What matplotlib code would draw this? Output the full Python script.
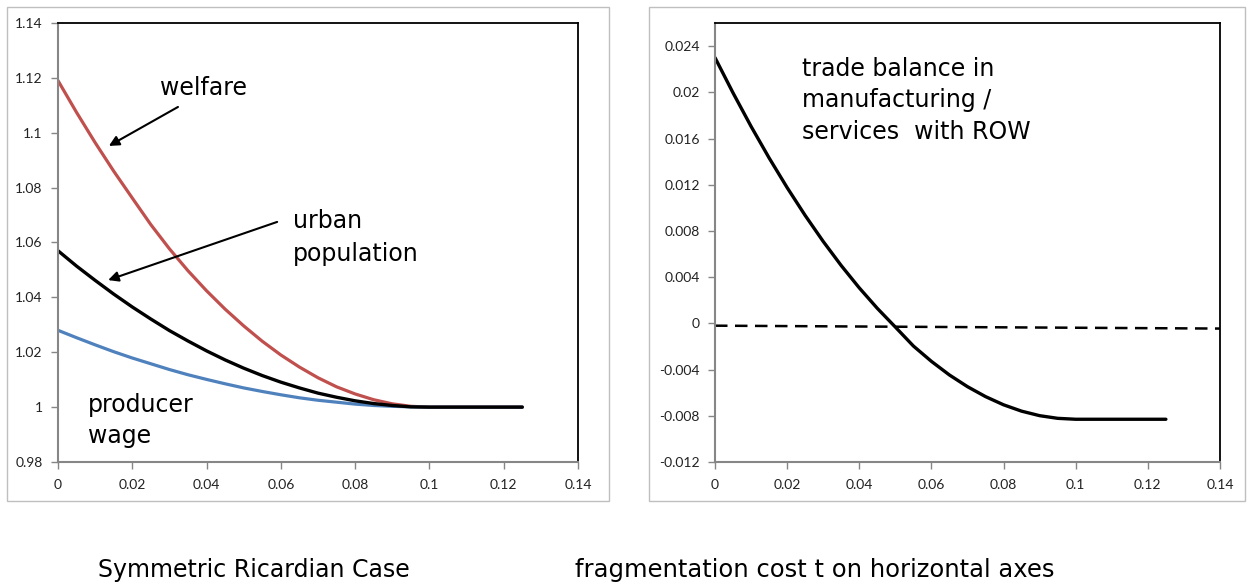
import numpy as np
import matplotlib
matplotlib.use("Agg")
import matplotlib.pyplot as plt
from matplotlib.patches import Rectangle
from matplotlib.ticker import FuncFormatter

# fragmentation cost t
t = [0.0, 0.005, 0.01, 0.015, 0.02, 0.025, 0.03, 0.035, 0.04, 0.045, 0.05,
     0.055, 0.06, 0.065, 0.07, 0.075, 0.08, 0.085, 0.09, 0.095, 0.1, 0.125]

welfare = [1.119, 1.1074, 1.0964, 1.086, 1.0762, 1.0665, 1.0577, 1.0497, 1.0424, 1.0357,
           1.0296, 1.024, 1.019, 1.0146, 1.0107, 1.0074, 1.0048, 1.0027, 1.0012, 1.0003,
           1.0, 1.0]
urban_pop = [1.057, 1.0514, 1.0462, 1.0412, 1.0365, 1.0321, 1.0279, 1.0241, 1.0205, 1.0172,
             1.0142, 1.0115, 1.0091, 1.007, 1.0051, 1.0036, 1.0023, 1.0013, 1.0006, 1.0001,
             1.0, 1.0]
producer_wage = [1.028, 1.0253, 1.0227, 1.0202, 1.0179, 1.0158, 1.0137, 1.0118, 1.0101,
                 1.0085, 1.007, 1.0057, 1.0045, 1.0034, 1.0025, 1.0018, 1.0011, 1.0006,
                 1.0003, 1.0001, 1.0, 1.0]
trade_balance = [0.0230, 0.01995, 0.01705, 0.01432, 0.01175, 0.00934, 0.00709, 0.00500,
                 0.00307, 0.00130, -0.00032, -0.00196, -0.00329, -0.00447, -0.00548,
                 -0.00634, -0.00705, -0.00760, -0.00799, -0.00822, -0.0083, -0.0083]

zero_x = [0.0, 0.14]
zero_y = [-0.0002, -0.00045]

x_ticks = [0, 0.02, 0.04, 0.06, 0.08, 0.1, 0.12, 0.14]
left_y_ticks = [0.98, 1.0, 1.02, 1.04, 1.06, 1.08, 1.1, 1.12, 1.14]
right_y_ticks = [-0.012, -0.008, -0.004, 0, 0.004, 0.008, 0.012, 0.016, 0.02, 0.024]

RED = "#C0504D"
BLUE = "#4F81BD"
AXIS_GRAY = "#868686"
TXT = 17

fig = plt.figure(figsize=(12.47, 5.85), dpi=100)

# panel frames
for x0, x1 in [(7, 609), (649, 1245)]:
    fig.patches.append(Rectangle((x0 / 1247, 84 / 585), (x1 - x0) / 1247, 494 / 585,
                                 transform=fig.transFigure, fill=False,
                                 edgecolor="#BFBFBF", lw=1.0))

fmt = FuncFormatter(lambda v, p: "%g" % round(v, 6))


def style_axes(ax):
    for side in ["left", "bottom"]:
        ax.spines[side].set_color(AXIS_GRAY)
        ax.spines[side].set_linewidth(1.5)
    for side in ["top", "right"]:
        ax.spines[side].set_color("black")
        ax.spines[side].set_linewidth(1.3)
    ax.tick_params(direction="out", length=5, width=1, color=AXIS_GRAY,
                   labelsize=10, labelcolor="#222222")
    ax.tick_params(axis="x", pad=7)
    ax.tick_params(axis="y", pad=6)
    ax.xaxis.set_major_formatter(fmt)
    ax.yaxis.set_major_formatter(fmt)
    for lab in ax.get_xticklabels() + ax.get_yticklabels():
        lab.set_family("Lato")


line_kw = dict(solid_capstyle="round", solid_joinstyle="round")

ax1 = fig.add_axes([58 / 1247, 123 / 585, 520 / 1247, 439 / 585])
ax1.plot(t, welfare, color=RED, lw=2.3, **line_kw)
ax1.plot(t, producer_wage, color=BLUE, lw=2.3, **line_kw)
ax1.plot(t, urban_pop, color="black", lw=2.4, **line_kw)
ax1.set_xlim(0, 0.14)
ax1.set_ylim(0.98, 1.14)
ax1.set_xticks(x_ticks)
ax1.set_yticks(left_y_ticks)
style_axes(ax1)

arrow = dict(arrowstyle="-|>", color="black", lw=1.5, mutation_scale=15,
             shrinkA=0, shrinkB=0)
ax1.annotate("", xy=(0.0137, 1.0952), xytext=(0.0323, 1.1094), arrowprops=arrow)
ax1.annotate("", xy=(0.0135, 1.0463), xytext=(0.059, 1.0675), arrowprops=arrow)
ax1.text(0.0275, 1.1138, "welfare", fontsize=TXT, va="baseline")
ax1.text(0.0633, 1.0653, "urban", fontsize=TXT, va="baseline")
ax1.text(0.0633, 1.0533, "population", fontsize=TXT, va="baseline")
ax1.text(0.0081, 0.9982, "producer", fontsize=TXT, va="baseline")
ax1.text(0.0081, 0.9869, "wage", fontsize=TXT, va="baseline")

ax2 = fig.add_axes([715 / 1247, 123 / 585, 505 / 1247, 439 / 585])
ax2.plot(t, trade_balance, color="black", lw=2.4, **line_kw)
ax2.plot(zero_x, zero_y, color="black", lw=1.8, dashes=(5, 3))
ax2.set_xlim(0, 0.14)
ax2.set_ylim(-0.012, 0.026)
ax2.set_xticks(x_ticks)
ax2.set_yticks(right_y_ticks)
style_axes(ax2)

ax2.text(0.0241, 0.02145, "trade balance in", fontsize=TXT, va="baseline")
ax2.text(0.0241, 0.01871, "manufacturing /", fontsize=TXT, va="baseline")
ax2.text(0.0241, 0.01597, "services  with ROW", fontsize=TXT, va="baseline")

fig.text(98 / 1247, 8 / 585, "Symmetric Ricardian Case", fontsize=TXT, va="baseline")
fig.text(575 / 1247, 8 / 585, "fragmentation cost t on horizontal axes",
         fontsize=17.5, va="baseline")

fig.savefig("out.png", dpi=100)
